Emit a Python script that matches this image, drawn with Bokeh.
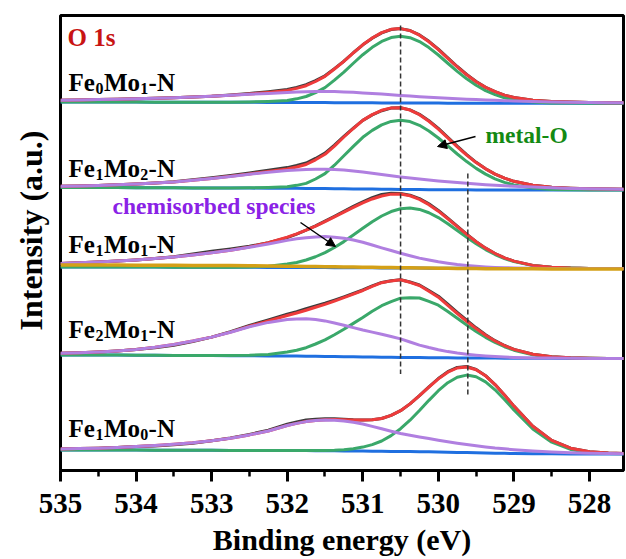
import numpy as np
from bokeh.plotting import figure
from bokeh.models import Range1d, SingleIntervalTicker, Arrow, NormalHead, ColumnDataSource, Title
from bokeh.core.properties import value
from bokeh.embed import file_html
from bokeh.resources import INLINE

# ---------------- data (binding energy grid, eV; finer near the peaks) ----------------
energy = [535.0, 534.75, 534.5, 534.25, 534.0, 533.75, 533.5, 533.25, 533.0, 532.75, 532.5, 532.25,
          532.0, 531.875, 531.75, 531.625, 531.5, 531.375, 531.25, 531.125, 531.0, 530.875,
          530.75, 530.625, 530.5, 530.375, 530.25, 530.125, 530.0, 529.875, 529.75, 529.625,
          529.5, 529.375, 529.25, 529.125, 529.0,
          528.75, 528.5, 528.25, 528.0, 527.75, 527.5]

# Fe0Mo1-N (stacked, a.u.)
bg1 = [368.5, 368.5, 368.4, 368.4, 368.4, 368.3, 368.3, 368.3, 368.2, 368.2, 368.2, 368.1,
       368.1, 368.05, 368.0, 367.95, 367.9, 367.85, 367.8, 367.75, 367.7, 367.65, 367.6, 367.55, 367.5,
       367.45, 367.4, 367.4, 367.4, 367.35, 367.3, 367.3, 367.3, 367.3, 367.3, 367.3, 367.3,
       367.3, 367.3, 367.3, 367.3, 367.3, 367.3]
metal1 = [0, 0, 0, 0, 0, 0, 0, 0, 0, 0.1, 0.3, 1.0,
          2.0, 3.6, 6.0, 10.0, 15.0, 22.5, 30.5, 39.5, 48.1, 55.5, 61.5, 65.4, 66.8,
          65.4, 61.5, 55.5, 48.1, 39.9, 31.9, 24.4, 17.9, 12.6, 8.6, 5.5, 3.5,
          1.2, 0.3, 0.1, 0, 0, 0]
chem1 = [1.8, 2.1, 2.5, 2.9, 3.4, 3.9, 4.5, 5.2, 6.0, 7.0, 8.0, 9.0,
         10.0, 10.45, 10.8, 11.05, 11.2, 11.1, 10.8, 10.4, 9.9, 9.35, 8.8, 8.2, 7.6,
         7.0, 6.4, 5.85, 5.3, 4.85, 4.4, 4.0, 3.6, 3.25, 2.9, 2.55, 2.2,
         1.7, 1.3, 1.0, 0.7, 0.5, 0.4]
res1 = [0, 0, 0, 0, 0, 0, 0, 0, 0, 0.3, 0.5, 0.7,
        0.9, 0.95, 1.0, 0.8, 0.6, 0.4, 0.2, 0.1, 0, -0.15, -0.3, -0.15, 0,
        0.15, 0.3, 0.4, 0.5, 0.45, 0.4, 0.3, 0.2, 0.1, 0, 0, 0,
        0, 0, 0, 0, 0, 0]

# Fe1Mo2-N
bg2 = [283.0, 283.0, 282.9, 282.9, 282.8, 282.8, 282.7, 282.6, 282.6, 282.5, 282.4, 282.3,
       282.2, 282.15, 282.1, 282.0, 281.9, 281.8, 281.7, 281.6, 281.5, 281.4, 281.3, 281.2, 281.1,
       281.0, 280.9, 280.85, 280.8, 280.75, 280.7, 280.65, 280.6, 280.6, 280.6, 280.55, 280.5,
       280.5, 280.5, 280.5, 280.5, 280.5, 280.5]
metal2 = [0, 0, 0, 0, 0, 0, 0, 0, 0, 0.1, 0.3, 0.8,
          1.5, 3.0, 5.0, 9.5, 15.0, 23.5, 33.0, 42.5, 51.7, 58.7, 64.3, 67.9, 69.2,
          67.9, 64.3, 58.7, 51.7, 43.8, 35.8, 28.3, 21.5, 15.8, 11.1, 7.6, 5.0,
          1.9, 0.6, 0.2, 0, 0, 0]
chem2 = [1.2, 1.6, 2.1, 2.8, 3.6, 4.6, 5.8, 7.6, 9.5, 11.6, 13.8, 16.0,
         17.8, 18.4, 18.9, 19.2, 19.3, 19.15, 18.8, 17.9, 16.9, 15.75, 14.6, 13.5, 12.5,
         11.55, 10.6, 9.7, 8.8, 8.0, 7.2, 6.5, 5.8, 5.25, 4.7, 4.2, 3.7,
         2.9, 2.2, 1.6, 1.2, 0.9, 0.6]
res2 = [0, 0, 0, 0, 0, 0, 0.3, 0.5, 0.6, 0.8, 1.0, 1.2,
        1.4, 1.45, 1.5, 1.35, 1.2, 0.9, 0.6, 0.3, 0, -0.2, -0.4, -0.2, 0,
        0.2, 0.4, 0.6, 0.8, 0.7, 0.6, 0.45, 0.3, 0.15, 0, 0, 0,
        0, 0, 0, 0, 0, 0]

# Fe1Mo1-N
bg3 = [203.5, 203.5, 203.5, 203.4, 203.4, 203.4, 203.3, 203.3, 203.3, 203.2, 203.2, 203.1,
       203.1, 203.05, 203.0, 202.95, 202.9, 202.85, 202.8, 202.75, 202.7, 202.65, 202.6, 202.55, 202.5,
       202.45, 202.4, 202.35, 202.3, 202.25, 202.2, 202.2, 202.2, 202.15, 202.1, 202.1, 202.1,
       202.0, 202.0, 202.0, 202.0, 202.0, 202.0]
shirley3 = [205.5, 205.5, 205.4, 205.4, 205.3, 205.3, 205.2, 205.1, 205.0, 204.9, 204.7, 204.5,
            204.3, 204.2, 204.1, 203.95, 203.8, 203.7, 203.6, 203.45, 203.3, 203.2, 203.1, 202.95, 202.8,
            202.7, 202.6, 202.45, 202.3, 202.2, 202.1, 202.0, 201.9, 201.85, 201.8, 201.75, 201.7,
            201.7, 201.6, 201.6, 201.6, 201.5, 201.5]
metal3 = [0, 0, 0, 0, 0, 0, 0, 0, 0, 0.1, 0.4, 1.2,
          3.3, 5.0, 7.5, 10.8, 15.0, 20.2, 26.1, 32.7, 39.5, 46.1, 51.9, 56.4, 59.2,
          60.0, 58.7, 55.4, 50.6, 44.5, 37.9, 31.1, 24.6, 18.8, 13.9, 9.9, 6.8,
          2.9, 1.1, 0.4, 0.1, 0, 0]
chem3 = [3.5, 4.2, 5.0, 6.0, 7.2, 8.5, 10.2, 12.2, 14.4, 17.0, 20.0, 23.5,
         27.0, 28.6, 29.8, 30.6, 31.0, 30.5, 29.5, 27.7, 25.5, 22.8, 20.0, 17.4, 14.8,
         12.3, 10.0, 8.1, 6.4, 5.0, 3.8, 2.8, 2.0, 1.4, 1.0, 0.7, 0.5,
         0.2, 0.1, 0, 0, 0, 0]
res3 = [0, 0, 0, 0, 0, 0, 0.3, 1.0, 1.5, 1.2, 0.6, 0,
        -0.5, -0.2, 0, 0.3, 0.5, 0.65, 0.8, 0.9, 1.0, 1.3, 1.5, 1.0, 0.5,
        0.6, 0.8, 0.8, 0.8, 0.6, 0.4, 0.2, 0, 0, 0, 0, 0,
        0, 0, 0, 0, 0, 0]

# Fe2Mo1-N
bg4 = [115.5, 115.5, 115.4, 115.4, 115.3, 115.2, 115.1, 115.0, 114.9, 114.8, 114.7, 114.6,
       114.5, 114.4, 114.3, 114.2, 114.1, 113.95, 113.8, 113.65, 113.5, 113.4, 113.3, 113.2, 113.1,
       113.0, 112.9, 112.85, 112.8, 112.7, 112.6, 112.55, 112.5, 112.45, 112.4, 112.35, 112.3,
       112.2, 112.2, 112.1, 112.1, 112.0, 112.0]
metal4 = [0, 0, 0, 0, 0, 0, 0, 0, 0, 0.1, 0.5, 1.5,
          4.0, 5.9, 8.5, 12.3, 16.5, 21.8, 27.5, 33.5, 39.5, 45.8, 51.5, 55.6, 59.2,
          59.7, 59.6, 56.3, 52.5, 46.3, 39.6, 33.0, 26.6, 20.7, 15.6, 11.4, 8.0,
          3.6, 1.4, 0.5, 0.1, 0, 0]
chem4 = [1.7, 2.3, 3.1, 4.2, 5.8, 8.0, 11.0, 14.5, 18.5, 23.5, 29.0, 33.5,
         36.5, 37.2, 37.5, 36.7, 35.5, 33.6, 31.5, 29.2, 27.0, 25.0, 23.0, 20.8, 18.5,
         15.5, 12.5, 10.1, 8.0, 6.2, 4.8, 3.7, 2.8, 2.1, 1.5, 1.1, 0.8,
         0.4, 0.2, 0.1, 0, 0, 0]
res4 = [0, 0, 0, 0, 0, -0.5, -0.8, -0.6, 0, 0.5, 0.8, 1.0,
        1.3, 1.4, 1.5, 1.35, 1.2, 1.0, 0.8, 0.65, 0.5, 0.4, 0.3, 0.15, 0,
        0.25, 0.5, 0.75, 1.0, 1.1, 1.2, 1.0, 0.8, 0.55, 0.3, 0.15, 0,
        0, 0, 0, 0, 0, 0]

# Fe1Mo0-N
bg5 = [20.5, 20.5, 20.4, 20.4, 20.4, 20.3, 20.3, 20.2, 20.2, 20.1, 20.1, 20.0,
       20.0, 19.95, 19.9, 19.85, 19.8, 19.7, 19.6, 19.55, 19.5, 19.35, 19.2, 19.1, 19.0,
       18.9, 18.8, 18.65, 18.5, 18.3, 18.1, 17.9, 17.7, 17.5, 17.3, 17.15, 17.0,
       16.8, 16.7, 16.6, 16.5, 16.5, 16.5]
metal5 = [0, 0, 0, 0, 0, 0, 0, 0, 0, 0, 0, 0,
          0, 0, 0.1, 0.1, 0.3, 0.6, 1.2, 2.2, 3.9, 6.5, 10.3, 15.8, 22.8,
          31.4, 41.2, 51.5, 61.3, 69.5, 75.2, 77.5, 76.1, 71.1, 63.4, 53.9, 43.6,
          24.7, 11.6, 4.5, 1.4, 0.4, 0.1]
chem5 = [1.0, 1.4, 1.9, 2.6, 3.5, 4.6, 6.0, 7.6, 9.6, 12.2, 15.5, 19.5,
         25.0, 27.2, 29.0, 30.1, 30.7, 30.6, 30.0, 28.7, 27.0, 24.8, 22.5, 20.2, 18.0,
         16.3, 14.8, 13.3, 11.8, 10.5, 9.2, 8.1, 7.0, 6.1, 5.2, 4.5, 3.8,
         2.7, 1.8, 1.2, 0.8, 0.5, 0.3]
res5 = [0, 0, 0, 0, 0, -0.4, -0.6, -0.5, 0, 0.3, 0.5, 0.8,
        1.2, 1.35, 1.5, 1.25, 1.0, 0.75, 0.5, 0.25, 0, 0, 0, 0, 0,
        0, 0, 0.2, 0.4, 0.5, 0.6, 0.45, 0.3, 0.15, 0, 0, 0,
        0, 0, 0, 0, 0, 0]

sample_fe = ["0", "1", "1", "2", "1"]
sample_mo = ["1", "2", "1", "1", "0"]
peak_refs = [530.5, 529.61]   # dashed reference energies (eV)

# ---------------- style ----------------
FONT = "Liberation Serif"
RED = "#ee3b3b"
GREEN = "#3aa86a"
PURPLE = "#b07fe0"
BLUE = "#1f6fe0"
GRAY = "#3c3c3c"
ORANGE = "#d4a017"

p = figure(frame_width=563, frame_height=455,
           x_range=Range1d(535, 527.55), y_range=Range1d(0, 455),
           output_backend="svg", toolbar_location=None,
           min_border_left=60, min_border_right=3, min_border_top=15, min_border_bottom=89)
p.xgrid.visible = False
p.ygrid.visible = False
p.yaxis.visible = False
p.outline_line_color = "black"
p.outline_line_width = 3
p.background_fill_color = "white"
p.border_fill_color = "white"

ax = p.xaxis[0]
ax.ticker = SingleIntervalTicker(interval=1, num_minor_ticks=2)
ax.axis_line_width = 3
ax.axis_line_color = "black"
ax.major_tick_line_width = 3
ax.major_tick_in = 0
ax.major_tick_out = 11
ax.minor_tick_line_width = 2.5
ax.minor_tick_in = 0
ax.minor_tick_out = 6
ax.major_label_text_font = FONT
ax.major_label_text_font_size = "29px"
ax.major_label_text_font_style = "bold"
ax.major_label_text_color = "black"
ax.major_label_standoff = 12
ax.axis_label = "Binding energy (eV)"
ax.axis_label_text_font = FONT
ax.axis_label_text_font_size = "30px"
ax.axis_label_text_font_style = "bold"
ax.axis_label_text_color = "black"
ax.axis_label_standoff = 7

p.add_layout(Title(text="Intensity (a.u.)", align="right", vertical_align="top",
                   offset=115, standoff=19, text_font=FONT, text_font_size="32px",
                   text_font_style="bold", text_color="black"), "left")

spectra = [(bg1, metal1, chem1, res1), (bg2, metal2, chem2, res2),
           (bg3, metal3, chem3, res3), (bg4, metal4, chem4, res4),
           (bg5, metal5, chem5, res5)]

for i, (bg, metal, chem, res) in enumerate(spectra):
    b = np.array(bg, dtype=float)
    m = np.array(metal, dtype=float)
    c = np.array(chem, dtype=float)
    fit = b + m + c
    raw = fit + np.array(res, dtype=float)
    p.line(energy, b, line_color=BLUE, line_width=3, line_join="round")
    p.line(energy, raw, line_color=GRAY, line_width=3, line_join="round")
    p.line(energy, b + m, line_color=GREEN, line_width=3, line_join="round")
    p.line(energy, fit, line_color=RED, line_width=3, line_join="round")
    p.line(energy, b + c, line_color=PURPLE, line_width=3, line_join="round")
    if i == 2:
        p.line(energy, shirley3, line_color=ORANGE, line_width=3.5, line_join="round")

# dashed reference lines
p.segment(x0=peak_refs, y0=[445, 297], x1=peak_refs, y1=[96.5, 74],
          line_color="#333333", line_width=1.5, line_dash="5 3")

# sample labels with subscripts
label_x = 534.894
label_base = [388, 302.5, 226, 141, 42.5]
main_src = ColumnDataSource(dict(
    x=[label_x] * 15,
    y=[yb for yb in label_base for _ in range(3)],
    text=[t for _ in label_base for t in ("Fe", "Mo", "-N")],
    dx=[d for _ in label_base for d in (0, 35.4, 80.1)],
))
sub_src = ColumnDataSource(dict(
    x=[label_x] * 10,
    y=[yb - 6 for yb in label_base for _ in range(2)],
    text=[t for pair in zip(sample_fe, sample_mo) for t in pair],
    dx=[d for _ in label_base for d in (26.9, 71.8)],
))
p.text(x="x", y="y", text="text", x_offset="dx", source=main_src,
       text_font=value(FONT), text_font_style="bold", text_font_size="25px",
       text_color="black", text_baseline="alphabetic", text_align="left")
p.text(x="x", y="y", text="text", x_offset="dx", source=sub_src,
       text_font=value(FONT), text_font_style="bold", text_font_size="16px",
       text_color="black", text_baseline="alphabetic", text_align="left")

p.text(x=[534.907], y=[433], text=["O 1s"], text_font=value(FONT), text_font_style="bold",
       text_font_size="25px", text_color="#c81414", text_baseline="alphabetic", text_align="left")
p.text(x=[529.376], y=[336], text=["metal-O"], text_font=value(FONT), text_font_style="bold",
       text_font_size="23.5px", text_color="#138a13", text_baseline="alphabetic", text_align="left")
p.text(x=[534.312], y=[265], text=["chemisorbed species"], text_font=value(FONT),
       text_font_style="bold", text_font_size="23.5px", text_color="#8a22e6",
       text_baseline="alphabetic", text_align="left")

p.add_layout(Arrow(end=NormalHead(size=9, fill_color="black", line_color="black", line_width=1),
                   x_start=529.508, y_start=334, x_end=530.011, y_end=324,
                   line_color="black", line_width=1.5))
p.add_layout(Arrow(end=NormalHead(size=9, fill_color="black", line_color="black", line_width=1),
                   x_start=531.824, y_start=248, x_end=531.361, y_end=224,
                   line_color="black", line_width=1.5))

open("out.html", "w").write(file_html(p, INLINE))
